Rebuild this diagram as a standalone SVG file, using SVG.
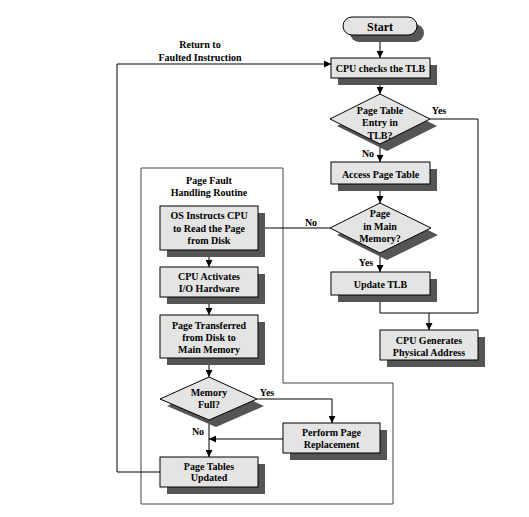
<svg xmlns="http://www.w3.org/2000/svg" width="529" height="517" viewBox="0 0 529 517">
<defs>
<style>
text{font-family:"Liberation Serif","Times New Roman",serif;font-weight:bold;font-size:10px;fill:#000;text-anchor:middle}
.box{fill:#e4e4e4;stroke:#000;stroke-width:1}
.sh{fill:#555}
.ln{fill:none;stroke:#000;stroke-width:1}
.frame{fill:none;stroke:#444;stroke-width:1}
</style>
<marker id="ah" viewBox="0 0 8 8" refX="8" refY="4" markerWidth="7" markerHeight="7" markerUnits="userSpaceOnUse" orient="auto">
<path d="M0,0 L8,4 L0,8 z" fill="#000"/>
</marker>
</defs>
<rect width="529" height="517" fill="#fff"/>

<g id="routine-frame">
<path class="frame" d="M141,168 H283 V383 H393 V504 H141 Z"/>
<text x="209" y="183.5">Page Fault</text>
<text x="209" y="195.5">Handling Routine</text>
</g>

<g id="connectors">
<path class="ln" d="M380,35 V58" marker-end="url(#ah)"/>
<path class="ln" d="M380,77 V94" marker-end="url(#ah)"/>
<path class="ln" d="M380,144 V162" marker-end="url(#ah)"/>
<path class="ln" d="M380,184 V203" marker-end="url(#ah)"/>
<path class="ln" d="M380,253 V272" marker-end="url(#ah)"/>
<path class="ln" d="M380,295 V313 H429 V330" marker-end="url(#ah)"/>
<path class="ln" d="M430,119 H478 V313 H429"/>
<path class="ln" d="M330,228 H258" marker-end="url(#ah)"/>
<path class="ln" d="M209,250 V267" marker-end="url(#ah)"/>
<path class="ln" d="M209,297 V315" marker-end="url(#ah)"/>
<path class="ln" d="M209,358 V377" marker-end="url(#ah)"/>
<path class="ln" d="M257,399 H332 V423" marker-end="url(#ah)"/>
<path class="ln" d="M283,439 H209" marker-end="url(#ah)"/>
<path class="ln" d="M209,420 V457" marker-end="url(#ah)"/>
<path class="ln" d="M160,472 H117 V64 H331" marker-end="url(#ah)"/>
<text x="439" y="114">Yes</text>
<text x="368" y="157">No</text>
<text x="311" y="226">No</text>
<text x="366" y="265.5">Yes</text>
<text x="267" y="395.5">Yes</text>
<text x="198" y="434.5">No</text>
<text x="200" y="47.5">Return to</text>
<text x="200" y="60.5">Faulted Instruction</text>
</g>

<g id="start">
<rect class="sh" x="350" y="24" width="74" height="18" rx="9"/>
<rect class="box" x="343" y="17" width="74" height="18" rx="9"/>
<text x="380" y="30.5" style="font-size:12px">Start</text>
</g>

<g id="cpu-checks-tlb">
<rect class="sh" x="338" y="65" width="99" height="20"/>
<rect class="box" x="331" y="58" width="99" height="20"/>
<text x="380.5" y="71.5">CPU checks the TLB</text>
</g>

<g id="entry-in-tlb">
<polygon class="sh" points="387,101 437,126 387,151 337,126"/>
<polygon class="box" points="380,94 430,119 380,144 330,119"/>
<text x="380" y="113.5">Page Table</text>
<text x="380" y="126">Entry in</text>
<text x="380" y="138.5">TLB?</text>
</g>

<g id="access-page-table">
<rect class="sh" x="338" y="169" width="99" height="22"/>
<rect class="box" x="331" y="162" width="99" height="22"/>
<text x="380.5" y="177.5">Access Page Table</text>
</g>

<g id="page-in-memory">
<polygon class="sh" points="387,210 438,235 387,260 337,235"/>
<polygon class="box" points="380,203 431,228 380,253 330,228"/>
<text x="380" y="217">Page</text>
<text x="380" y="229.5">in Main</text>
<text x="380" y="242">Memory?</text>
</g>

<g id="update-tlb">
<rect class="sh" x="338" y="279" width="99" height="23"/>
<rect class="box" x="331" y="272" width="99" height="23"/>
<text x="380.5" y="287.5">Update TLB</text>
</g>

<g id="cpu-generates">
<rect class="sh" x="387" y="337" width="98" height="30"/>
<rect class="box" x="380" y="330" width="98" height="30"/>
<text x="429" y="343.5">CPU Generates</text>
<text x="429" y="355.5">Physical Address</text>
</g>

<g id="os-instructs">
<rect class="sh" x="167" y="213" width="98" height="44"/>
<rect class="box" x="160" y="206" width="98" height="44"/>
<text x="209" y="219">OS Instructs CPU</text>
<text x="209" y="231.5">to Read the Page</text>
<text x="209" y="244">from Disk</text>
</g>

<g id="cpu-activates">
<rect class="sh" x="167" y="274" width="98" height="30"/>
<rect class="box" x="160" y="267" width="98" height="30"/>
<text x="209" y="280">CPU Activates</text>
<text x="209" y="292">I/O Hardware</text>
</g>

<g id="page-transferred">
<rect class="sh" x="167" y="322" width="98" height="43"/>
<rect class="box" x="160" y="315" width="98" height="43"/>
<text x="209" y="328.5">Page Transferred</text>
<text x="209" y="340.5">from Disk to</text>
<text x="209" y="352.5">Main Memory</text>
</g>

<g id="memory-full">
<polygon class="sh" points="216,384 264,406 216,427 167,406"/>
<polygon class="box" points="209,377 257,399 209,420 160,399"/>
<text x="209" y="396">Memory</text>
<text x="209" y="408">Full?</text>
</g>

<g id="page-replacement">
<rect class="sh" x="290" y="430" width="97" height="30"/>
<rect class="box" x="283" y="423" width="97" height="30"/>
<text x="331.5" y="436">Perform Page</text>
<text x="331.5" y="448">Replacement</text>
</g>

<g id="page-tables-updated">
<rect class="sh" x="167" y="464" width="98" height="30"/>
<rect class="box" x="160" y="457" width="98" height="30"/>
<text x="209" y="469.5">Page Tables</text>
<text x="209" y="481">Updated</text>
</g>
</svg>
